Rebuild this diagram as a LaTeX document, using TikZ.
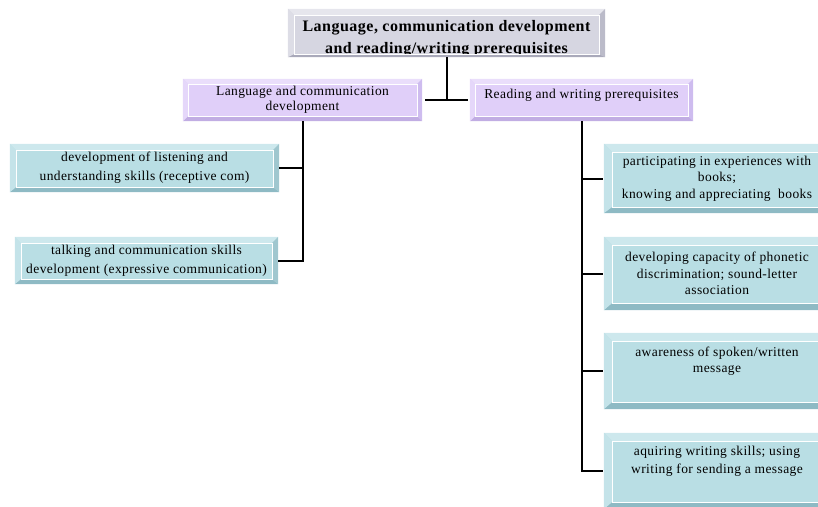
\documentclass[tikz,border=0pt]{standalone}
\usepackage{fontspec}
\setmainfont{Liberation Serif}[LetterSpace=3]
\usetikzlibrary{calc}

% bevel palettes: face, top, left, bottom, right
\definecolor{blueface}{HTML}{B9DEE4}
\definecolor{bluetop}{HTML}{CDE8ED}
\definecolor{blueleft}{HTML}{C4E3E9}
\definecolor{bluebot}{HTML}{8EBAC4}
\definecolor{blueright}{HTML}{A0C7CF}
\definecolor{lilacface}{HTML}{E0CFF9}
\definecolor{lilactop}{HTML}{EADEFB}
\definecolor{lilacleft}{HTML}{E5D7FA}
\definecolor{lilacbot}{HTML}{C1ADE3}
\definecolor{lilacright}{HTML}{CEBCEF}
\definecolor{greyface}{HTML}{D6D6E1}
\definecolor{greytop}{HTML}{E6E6ED}
\definecolor{greyleft}{HTML}{DDDDE6}
\definecolor{greybot}{HTML}{A9A9BA}
\definecolor{greyright}{HTML}{BBBBC9}

% raised frame drawn over a named rectangle node:
% #1 node, #2 palette, #3 frame width, #4 bottom frame width
\newcommand\bevel[4]{%
  \fill[#2top] (#1.north west) -- (#1.north east) -- ([shift={(-#3,-#3)}]#1.north east) -- ([shift={(#3,-#3)}]#1.north west) -- cycle;
  \fill[#2bot] (#1.south west) -- (#1.south east) -- ([shift={(-#3,#4)}]#1.south east) -- ([shift={(#3,#4)}]#1.south west) -- cycle;
  \fill[#2left] (#1.north west) -- ([shift={(#3,-#3)}]#1.north west) -- ([shift={(#3,#4)}]#1.south west) -- (#1.south west) -- cycle;
  \fill[#2right] (#1.north east) -- ([shift={(-#3,-#3)}]#1.north east) -- ([shift={(-#3,#4)}]#1.south east) -- (#1.south east) -- cycle;
  \draw[white, line width=0.5pt] ([shift={(#3,-#3)}]#1.north west) rectangle ([shift={(-#3,#4)}]#1.south east);
}

\tikzset{
  box/.style={rectangle, inner sep=0pt, align=center, text=black},
  bluebox/.style={box, fill=blueface, font=\fontsize{13.5}{16.5}\selectfont},
  lilacbox/.style={box, fill=lilacface, font=\fontsize{13.5}{15}\selectfont},
  greybox/.style={box, fill=greyface},
  toptext/.style={anchor=north, inner sep=0pt, align=center},
  conn/.style={draw=black, line width=2pt},
}

\begin{document}
\begin{tikzpicture}[x=1pt,y=-1pt]
\useasboundingbox (0,0) rectangle (818,506);
\clip (0,0) rectangle (818,506);

% title
\node[greybox, minimum width=317pt, minimum height=48pt,
  label={[toptext, yshift=-11.5pt, font=\fontsize{16}{22}\selectfont\bfseries]north:Language, communication development\\and reading/writing prerequisites}]
  (t) at (446.5,33) {};
\bevel{t}{grey}{6pt}{3pt}

% second level
\node[lilacbox, minimum width=239pt, minimum height=42pt] (lp) at (302.5,100)
  {Language and communication\\development};
\bevel{lp}{lilac}{5pt}{5pt}
\node[lilacbox, minimum width=223pt, minimum height=42pt,
  label={[toptext, yshift=-9.7pt, font=\fontsize{13.5}{15}\selectfont]north:Reading and writing prerequisites}]
  (rp) at (581.5,100) {};
\bevel{rp}{lilac}{5pt}{5pt}

% language branch
\node[bluebox, font=\fontsize{13.5}{19}\selectfont, minimum width=269pt, minimum height=48pt] (b1) at (144.5,168)
  {development of listening and\\understanding skills (receptive com)};
\bevel{b1}{blue}{6pt}{5pt}
\node[bluebox, font=\fontsize{13.5}{19}\selectfont, minimum width=263pt, minimum height=47pt] (b2) at (146.5,260.5)
  {talking and communication skills\\development (expressive communication)};
\bevel{b2}{blue}{6pt}{5pt}

% reading/writing branch
\node[bluebox, minimum width=226pt, minimum height=69pt] (a) at (717,178.5)
  {participating in experiences with\\books;\\knowing and appreciating\ \ books};
\bevel{a}{blue}{8pt}{6pt}
\node[bluebox, minimum width=226pt, minimum height=73pt] (b) at (717,273.5)
  {developing capacity of phonetic\\discrimination; sound-letter\\association};
\bevel{b}{blue}{8pt}{7pt}
\node[bluebox, minimum width=226pt, minimum height=76pt,
  label={[toptext, yshift=-14pt, font=\fontsize{13.5}{15.7}\selectfont]north:awareness of spoken/written\\message}]
  (c) at (717,371) {};
\bevel{c}{blue}{8pt}{7pt}
\node[bluebox, minimum width=226pt, minimum height=76pt,
  label={[toptext, yshift=-13pt, font=\fontsize{13.5}{18.3}\selectfont]north:aquiring writing skills; using\\writing for sending a message}]
  (d) at (717,471) {};
\bevel{d}{blue}{8pt}{7pt}

% connectors
\draw[conn] (t.south) -- (t.south |- lp.east);
\draw[conn] ([xshift=3pt]lp.east) -- ([xshift=-2pt]rp.west);
\draw[conn] (lp.south) |- (b2.east);
\draw[conn] (b1.east) -- (b1.east -| lp.south);
\draw[conn] (rp.south) |- ([xshift=-1pt]d.west);
\draw[conn] ([xshift=-1pt]a.west) -- (a.west -| rp.south);
\draw[conn] ([xshift=-1pt]b.west) -- (b.west -| rp.south);
\draw[conn] ([xshift=-1pt]c.west) -- (c.west -| rp.south);
\end{tikzpicture}
\end{document}
